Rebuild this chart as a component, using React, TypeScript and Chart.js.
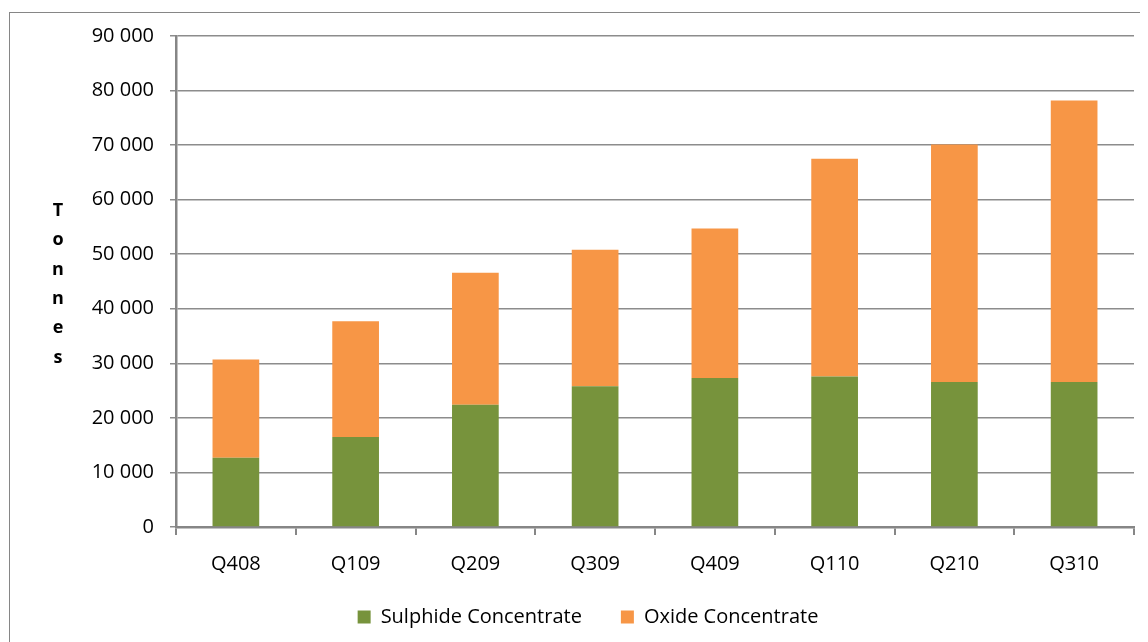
import React, { useEffect, useRef } from 'react';
import { Chart, registerables } from 'chart.js';

Chart.register(...registerables);

const categories = ['Q408', 'Q109', 'Q209', 'Q309', 'Q409', 'Q110', 'Q210', 'Q310'];
const sulphide = [12700, 16500, 22400, 25800, 27300, 27600, 26600, 26600];
const oxide = [18000, 21200, 24200, 25000, 27400, 39900, 43500, 51600];
const seriesNames = ['Sulphide Concentrate', 'Oxide Concentrate'];
const yMax = 90000;
const yStep = 10000;
const yTitleLetters = ['T', 'o', 'n', 'n', 'e', 's'];

const FONT = '"Open Sans", sans-serif';

const fmt = (v: number) => {
  const s = String(Math.round(v));
  return s.replace(/\B(?=(\d{3})+(?!\d))/g, ' ');
};

const yTitlePlugin = {
  id: 'yTitleLetters',
  afterLayout(chart: any) {
    // let the category labels extend below the (short) x-axis box without clipping
    if (chart.scales.x) chart.scales.x.bottom = chart.height;
  },
  afterDraw(chart: any) {
    const ctx = chart.ctx;
    ctx.save();
    ctx.font = `bold 18px ${FONT}`;
    ctx.fillStyle = '#000';
    ctx.textAlign = 'center';
    ctx.textBaseline = 'middle';
    yTitleLetters.forEach((ch, i) => {
      ctx.fillText(ch, 50, 203 + i * 29.3);
    });
    ctx.restore();
  },
};

export default function App() {
  const ref = useRef<HTMLCanvasElement | null>(null);

  useEffect(() => {
    if (!ref.current) return;
    const chart = new Chart(ref.current, {
      type: 'bar',
      data: {
        labels: categories,
        datasets: [
          {
            label: seriesNames[0],
            data: sulphide,
            backgroundColor: '#77933C',
            borderWidth: 0,
            barPercentage: 0.39,
            categoryPercentage: 1,
          },
          {
            label: seriesNames[1],
            data: oxide,
            backgroundColor: '#F79646',
            borderWidth: 0,
            barPercentage: 0.39,
            categoryPercentage: 1,
          },
        ],
      },
      options: {
        animation: false,
        responsive: false,
        maintainAspectRatio: false,
        layout: { padding: { left: 34, right: 14, top: 25, bottom: 5 } },
        scales: {
          x: {
            stacked: true,
            grid: {
              offset: true,
              drawOnChartArea: false,
              drawTicks: true,
              tickLength: 8,
              color: '#868686',
              lineWidth: 2,
            },
            border: { color: '#868686', width: 2.5 },
            ticks: {
              font: { family: FONT, size: 20 },
              color: '#000',
              padding: 17,
              maxRotation: 0,
            },
            afterFit(scale: any) {
              scale.height = 41;
            },
          },
          y: {
            stacked: true,
            min: 0,
            max: yMax,
            grid: {
              color: '#8c8c8c',
              lineWidth: 1.5,
              tickLength: 6,
            },
            border: { color: '#868686', width: 2.5 },
            ticks: {
              stepSize: yStep,
              font: { family: FONT, size: 20 },
              color: '#000',
              padding: 16,
              callback: (v: any) => fmt(Number(v)),
            },
            afterFit(scale: any) {
              scale.width = 134;
            },
          },
        },
        plugins: {
          legend: {
            position: 'bottom',
            labels: {
              boxWidth: 13,
              boxHeight: 13,
              padding: 39,
              color: '#000',
              font: { family: FONT, size: 20 },
            },
          },
          tooltip: { enabled: false },
        },
      },
      plugins: [yTitlePlugin],
    });
    return () => chart.destroy();
  }, []);

  return (
    <div style={{ position: 'relative', width: 1140, height: 634 }}>
      <div
        style={{
          position: 'absolute',
          left: 1,
          top: 4,
          width: 1139,
          height: 630,
          borderLeft: '1px solid #868686',
          borderTop: '1px solid #868686',
          boxSizing: 'border-box',
        }}
      />
      <canvas ref={ref} width={1140} height={634} style={{ position: 'absolute', left: 0, top: 0 }} />
    </div>
  );
}
